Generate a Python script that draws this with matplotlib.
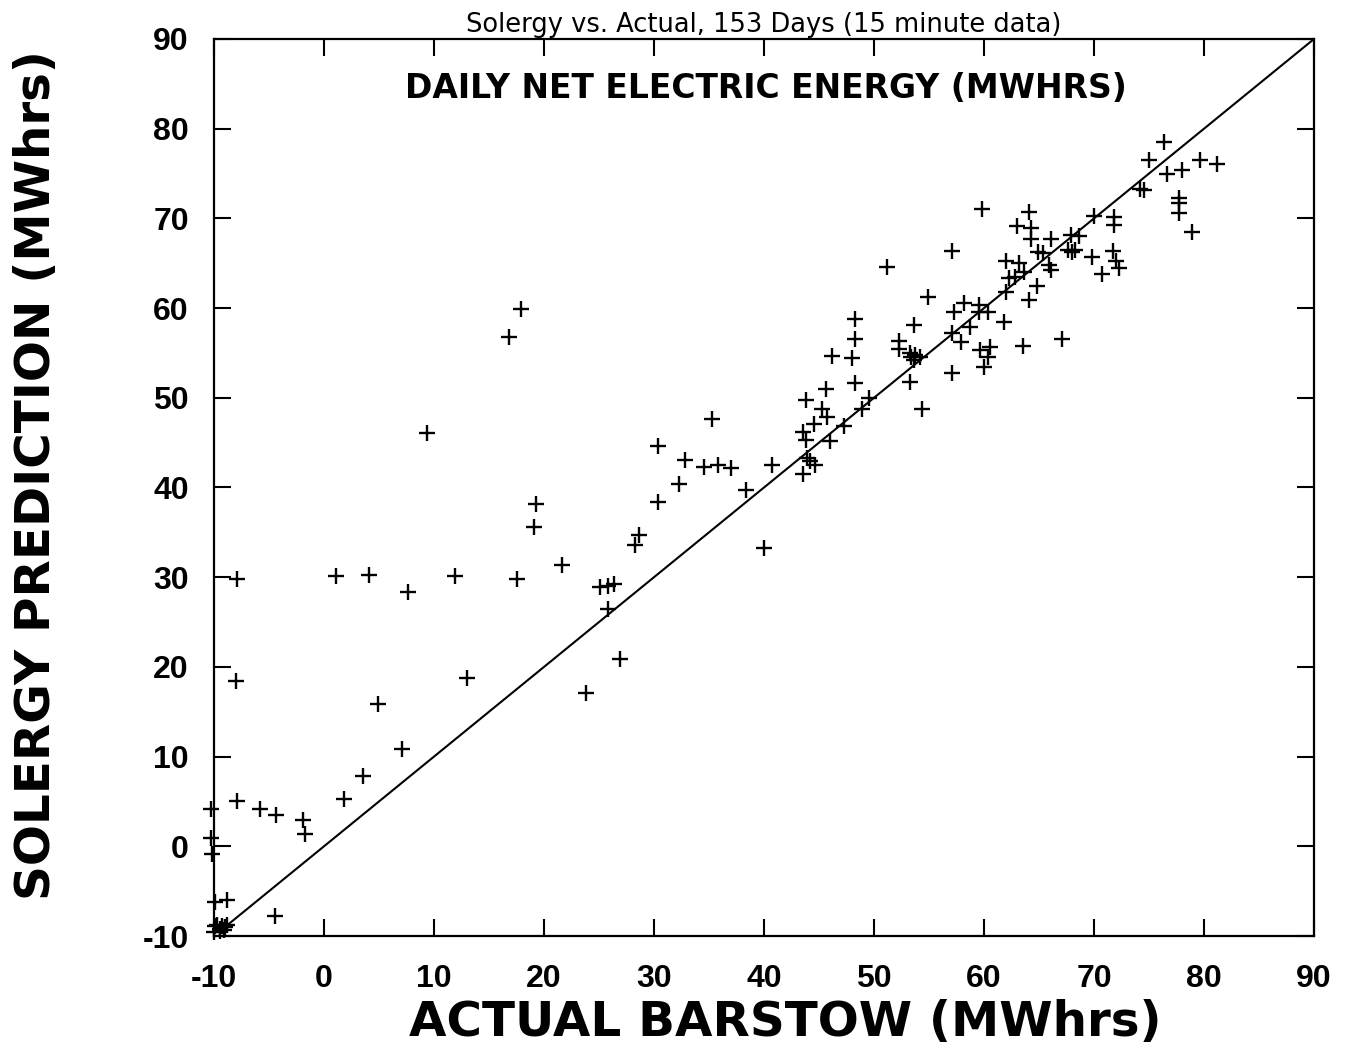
import matplotlib
matplotlib.use("Agg")
import matplotlib.pyplot as plt
import numpy as np

# Actual Barstow (x) vs Solergy prediction (y), MWhrs
actual = [
    -7.9, 1.1, 4.1, 7.6, 11.9, -8.0, 13.0, 4.9, 7.1, 3.5, 1.8,
    -7.9, -10.3, -5.8, -4.4, -1.9, -1.7, -10.3, -10.2, -9.9, -8.8, -4.5,
    -9.3, -9.0, -8.8, -9.5, -9.1, -10.0, -9.7, -9.9, -9.45,
    17.9, 16.8, 9.4, 19.3, 19.1, 21.6, 17.5, 25.1, 25.8, 26.4, 25.8, 28.6, 28.3,
    35.3, 30.4, 32.85, 34.5, 35.8, 37.0, 32.25, 30.4, 38.4, 40.7, 40.0, 26.95, 23.8,
    43.5, 43.9, 44.2, 44.65, 43.85, 45.6, 45.3, 45.7, 44.55, 43.5, 43.85, 46.0,
    47.3, 48.95, 49.55, 48.3,
    51.2, 57.1, 54.95, 48.3, 48.3, 46.2, 48.0,
    53.65, 52.3, 52.3, 53.3, 53.7, 54.2, 53.6, 53.4, 53.25, 54.4, 57.1, 57.1, 57.9,
    57.3, 58.2, 59.5, 59.5, 60.4, 58.7, 61.8, 59.6, 60.5, 60.4, 60.0, 63.55, 67.1,
    62.0, 64.1, 64.8, 62.0, 63.2, 62.3, 62.8, 63.6, 65.9, 66.1, 68.0, 69.8,
    76.4, 75.0, 79.6, 81.2, 76.6, 78.0, 74.2, 74.5, 77.7, 77.7, 77.7, 78.9,
    70.0, 71.8, 71.8, 71.7, 72.0, 72.3, 70.7, 67.95, 68.6, 67.6, 68.3,
    64.1, 63.0, 64.3, 64.3, 66.1, 64.9, 65.4, 59.8,
]
solergy = [
    29.8, 30.1, 30.2, 28.4, 30.1, 18.4, 18.8, 15.9, 10.9, 7.8, 5.3,
    5.1, 4.2, 4.2, 3.5, 2.9, 1.4, 0.9, -0.9, -6.25, -6.0, -7.8,
    -8.9, -9.0, -8.8, -9.2, -9.3, -9.5, -8.8, -8.9, -9.4,
    59.9, 56.8, 46.1, 38.2, 35.6, 31.4, 29.8, 28.9, 29.0, 29.2, 26.4, 34.65, 33.6,
    47.6, 44.6, 43.1, 42.3, 42.55, 42.2, 40.4, 38.35, 39.7, 42.5, 33.2, 20.85, 17.1,
    41.45, 43.3, 43.0, 42.5, 49.8, 51.0, 48.75, 47.9, 47.1, 46.2, 45.35, 45.15,
    46.9, 48.75, 50.0, 51.6,
    64.6, 66.4, 61.2, 58.8, 56.5, 54.7, 54.4,
    58.1, 56.3, 55.4, 55.0, 54.8, 54.6, 54.2, 54.5, 51.8, 48.8, 52.8, 57.2, 56.2,
    59.6, 60.6, 60.4, 59.6, 59.55, 57.85, 58.4, 55.3, 55.7, 54.5, 53.4, 55.8, 56.5,
    61.85, 60.9, 62.5, 65.2, 65.0, 63.3, 63.5, 64.0, 64.8, 64.2, 66.3, 65.75,
    78.5, 76.5, 76.5, 76.1, 75.0, 75.4, 73.3, 73.2, 72.25, 71.7, 70.6, 68.5,
    70.3, 70.2, 69.3, 66.4, 65.2, 64.5, 63.8, 68.2, 68.0, 66.5, 66.5,
    70.7, 69.1, 68.9, 67.7, 67.7, 66.3, 66.1, 71.0,
]
ticks = [-10, 0, 10, 20, 30, 40, 50, 60, 70, 80, 90]
diag = [-9, 90]

title_text = "Solergy vs. Actual, 153 Days (15 minute data)"
inner_text = "DAILY NET ELECTRIC ENERGY (MWHRS)"
xlabel_text = "ACTUAL BARSTOW (MWhrs)"
ylabel_text = "SOLERGY PREDICTION (MWhrs)"

fig = plt.figure(figsize=(13.51, 10.53), dpi=100)
W, H = 1351, 1053
L, R, T, B = 214, 1314, 39, 936
ax = fig.add_axes([L / W, 1 - B / H, (R - L) / W, (B - T) / H])

ax.plot(diag, diag, color="black", lw=1.5)
ax.plot(actual, solergy, linestyle="none", marker="+", color="black",
        ms=11, mew=1.7, clip_on=False)

ax.set_xlim(-10, 90)
ax.set_ylim(-10, 90)
ax.set_xticks(ticks)
ax.set_yticks(ticks)
ax.set_xticklabels([str(t) for t in ticks])
ax.set_yticklabels([str(t) for t in ticks])
ax.tick_params(axis="both", direction="in", length=12, width=1.5,
               top=True, right=True, labelsize=23)
ax.tick_params(axis="y", pad=18)
ax.tick_params(axis="x", pad=20)
for lab in ax.get_xticklabels() + ax.get_yticklabels():
    lab.set_fontfamily(["Liberation Sans", "DejaVu Sans"])
    lab.set_fontweight("bold")
for sp in ax.spines.values():
    sp.set_linewidth(1.6)

ax.set_title(title_text, fontsize=18.5, pad=5, family="DejaVu Sans")
ax.text(0.502, 0.945, inner_text, transform=ax.transAxes, ha="center",
        va="center", fontsize=23.8, fontweight="bold", family="DejaVu Sans")

fig.text(785 / W, 1 - 1022 / H, xlabel_text, ha="center", va="center",
         fontsize=34.8, fontweight="bold", family="DejaVu Sans")
fig.text(37 / W, 1 - 475 / H, ylabel_text, ha="center", va="center",
         rotation=90, fontsize=34.8, fontweight="bold", family="DejaVu Sans")

fig.savefig("out.png", dpi=100)
